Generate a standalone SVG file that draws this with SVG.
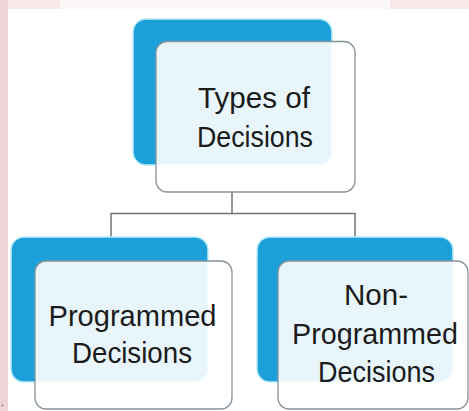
<svg xmlns="http://www.w3.org/2000/svg" width="469" height="411" viewBox="0 0 469 411">
<style>
.back{fill:#1d9fd9;stroke:#b8ecfa;stroke-width:1.5}
.front{fill:#ffffff;fill-opacity:0.9;stroke:#87939a;stroke-width:1.3}
.lbl{font-family:"Liberation Sans",Arial,sans-serif;font-size:30px;fill:#1b1b1b;text-anchor:middle}
.conn{fill:none;stroke:#6d767b;stroke-width:1.5}
</style>
<rect x="0" y="0" width="469" height="411" fill="#f8e9eb"/>
<rect x="0" y="0" width="8" height="411" fill="#f0d3d8"/>
<rect x="60" y="0" width="330" height="9" fill="#fdf8f8"/>
<rect x="8" y="9" width="461" height="402" fill="#ffffff"/>
<text x="1" y="406" font-family="Liberation Sans,sans-serif" font-size="10" fill="#222">.</text>
<g id="connectors">
<path class="conn" d="M232,192 V213.5 M111,237 V213.5 H355 V237"/>
</g>
<g id="node-types">
<rect class="back" x="133" y="19" width="199" height="146" rx="13"/>
<rect class="front" x="156" y="41.5" width="199" height="150.5" rx="11"/>
<text class="lbl" x="254" y="108" textLength="112" lengthAdjust="spacingAndGlyphs">Types of</text>
<text class="lbl" x="255" y="147" textLength="116" lengthAdjust="spacingAndGlyphs">Decisions</text>
</g>
<g id="node-programmed">
<rect class="back" x="11" y="237" width="197" height="145" rx="13"/>
<rect class="front" x="35" y="261" width="197" height="148" rx="11"/>
<text class="lbl" x="132.5" y="326" textLength="168" lengthAdjust="spacingAndGlyphs">Programmed</text>
<text class="lbl" x="132" y="363" textLength="120" lengthAdjust="spacingAndGlyphs">Decisions</text>
</g>
<g id="node-nonprogrammed">
<rect class="back" x="257" y="237" width="196" height="145" rx="13"/>
<rect class="front" x="278" y="261" width="190" height="148" rx="11"/>
<text class="lbl" x="376" y="305" textLength="64" lengthAdjust="spacingAndGlyphs">Non-</text>
<text class="lbl" x="375" y="344" textLength="166" lengthAdjust="spacingAndGlyphs">Programmed</text>
<text class="lbl" x="376.5" y="382" textLength="117" lengthAdjust="spacingAndGlyphs">Decisions</text>
</g>
</svg>
